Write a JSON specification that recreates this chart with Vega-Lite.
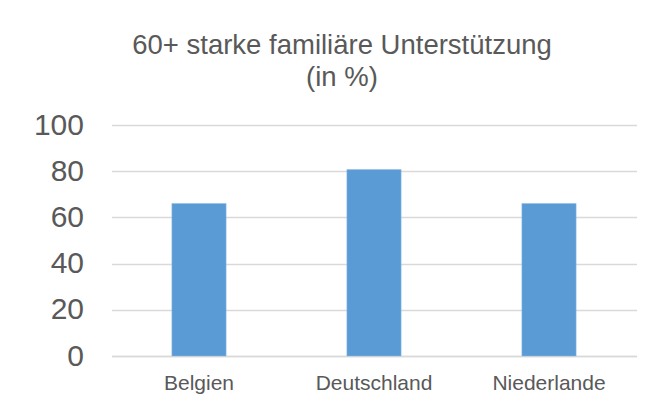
{
  "$schema": "https://vega.github.io/schema/vega-lite/v6.json",
  "width": 525,
  "height": 231,
  "autosize": {"type": "none"},
  "padding": {"left": 111.5, "top": 125, "right": 33.5, "bottom": 47},
  "background": "white",
  "title": {
    "text": ["60+ starke familiäre Unterstützung", "(in %)"],
    "font": "Liberation Sans",
    "fontSize": 27.5,
    "fontWeight": "normal",
    "color": "#595959",
    "lineHeight": 32,
    "anchor": "middle",
    "dx": -32,
    "offset": 19
  },
  "data": {
    "values": [
      {"land": "Belgien", "wert": 66},
      {"land": "Deutschland", "wert": 80.7},
      {"land": "Niederlande", "wert": 66}
    ]
  },
  "mark": {"type": "bar", "color": "#5b9bd5", "stroke": "#8fbde6", "strokeWidth": 0.5},
  "encoding": {
    "x": {
      "field": "land",
      "type": "nominal",
      "sort": null,
      "scale": {"paddingInner": 0.69, "paddingOuter": 0.345},
      "axis": {
        "title": null,
        "labelAngle": 0,
        "labelFont": "Liberation Sans",
        "labelFontSize": 21,
        "labelColor": "#595959",
        "ticks": false,
        "labelPadding": 16,
        "domainColor": "#d9d9d9",
        "domainWidth": 1.5,
        "grid": false
      }
    },
    "y": {
      "field": "wert",
      "type": "quantitative",
      "scale": {"domain": [0, 100]},
      "axis": {
        "title": null,
        "values": [0, 20, 40, 60, 80, 100],
        "labelFont": "Liberation Sans",
        "labelFontSize": 30,
        "labelColor": "#595959",
        "ticks": false,
        "domain": false,
        "labelPadding": 28,
        "gridColor": "#d9d9d9",
        "gridWidth": 1.5
      }
    }
  },
  "config": {"view": {"stroke": null}}
}
